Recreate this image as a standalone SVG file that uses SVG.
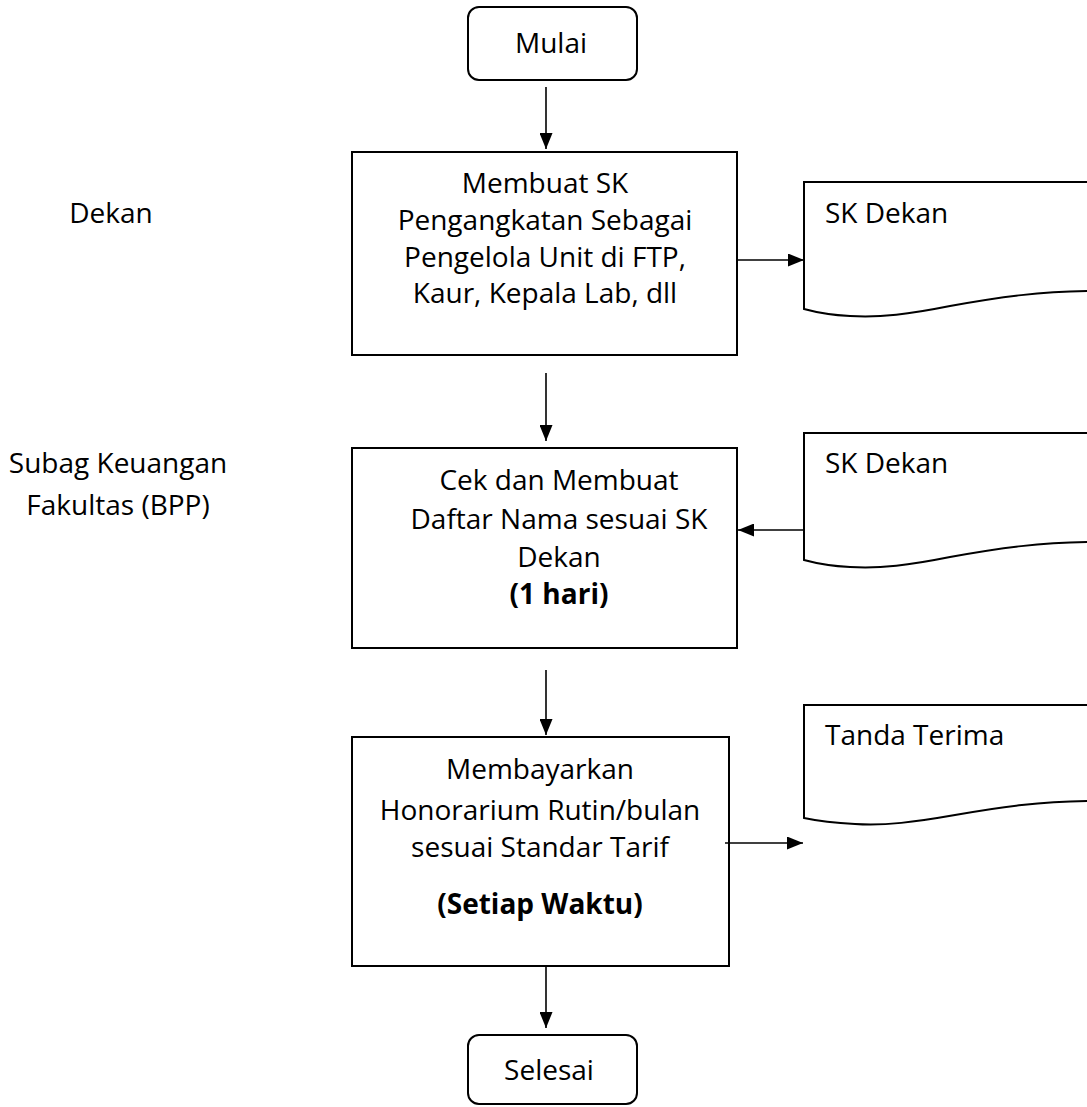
<svg xmlns="http://www.w3.org/2000/svg" width="1087" height="1107" viewBox="0 0 1087 1107">
  <style>
    .shape { fill: #ffffff; stroke: #000000; stroke-width: 2; }
    .txt { font-family: "Open Sans", "Noto Sans", sans-serif; font-size: 28px; fill: #000000; }
    .mid { text-anchor: middle; }
    .bold { font-weight: bold; }
    .conn { stroke: #000000; stroke-width: 1.6; fill: none; marker-end: url(#arrow); }
  </style>
  <defs>
    <marker id="arrow" viewBox="0 0 16 13" refX="16" refY="6.5" markerWidth="16" markerHeight="13" markerUnits="userSpaceOnUse" orient="auto">
      <path d="M0,0 L16,6.5 L0,13 Z" fill="#000000"/>
    </marker>
  </defs>

  <!-- role labels -->
  <g id="lane-dekan">
    <text class="txt mid" x="111" y="223">Dekan</text>
  </g>
  <g id="lane-subag">
    <text class="txt mid" x="118" y="473">Subag Keuangan</text>
    <text class="txt mid" x="118" y="515">Fakultas (BPP)</text>
  </g>

  <!-- start / end terminators -->
  <g id="mulai">
    <rect class="shape" x="468" y="7" width="169" height="73" rx="11"/>
    <text class="txt mid" x="551" y="53">Mulai</text>
  </g>
  <g id="selesai">
    <rect class="shape" x="468" y="1035" width="169" height="69" rx="11"/>
    <text class="txt mid" x="549" y="1080">Selesai</text>
  </g>

  <!-- process steps -->
  <g id="buat-sk">
    <rect class="shape" x="352" y="152" width="385" height="203"/>
    <text class="txt mid" x="545" y="193">Membuat SK</text>
    <text class="txt mid" x="545" y="230">Pengangkatan Sebagai</text>
    <text class="txt mid" x="545" y="267">Pengelola Unit di FTP,</text>
    <text class="txt mid" x="545" y="303">Kaur, Kepala Lab, dll</text>
  </g>
  <g id="cek-daftar">
    <rect class="shape" x="352" y="448" width="385" height="200"/>
    <text class="txt mid" x="559" y="490">Cek dan Membuat</text>
    <text class="txt mid" x="559" y="529">Daftar Nama sesuai SK</text>
    <text class="txt mid" x="559" y="567">Dekan</text>
    <text class="txt mid bold" x="559" y="604">(1 hari)</text>
  </g>
  <g id="bayar-honor">
    <rect class="shape" x="352" y="737" width="377" height="229"/>
    <text class="txt mid" x="540" y="779">Membayarkan</text>
    <text class="txt mid" x="540" y="820">Honorarium Rutin/bulan</text>
    <text class="txt mid" x="540" y="857">sesuai Standar Tarif</text>
    <text class="txt mid bold" x="540" y="914">(Setiap Waktu)</text>
  </g>

  <!-- documents -->
  <g id="doc-sk-1">
    <path class="shape" d="M804,182 H1100 V291 C1040,291 1000,297 950,306 C910,314 880,318 850,316 C830,315 815,312 804,309 Z"/>
    <text class="txt" x="825" y="223">SK Dekan</text>
  </g>
  <g id="doc-sk-2">
    <path class="shape" d="M804,433 H1100 V542 C1040,542 1000,548 950,557 C910,565 880,569 850,567 C830,566 815,563 804,560 Z"/>
    <text class="txt" x="825" y="473">SK Dekan</text>
  </g>
  <g id="doc-tanda-terima">
    <path class="shape" d="M804,705 H1100 V801 C1040,801 1000,807 955,815 C915,822 885,826 855,824 C835,823 818,821 804,818 Z"/>
    <text class="txt" x="825" y="745">Tanda Terima</text>
  </g>

  <!-- connectors -->
  <g id="connectors">
    <line class="conn" x1="546" y1="87" x2="546" y2="149"/>
    <line class="conn" x1="737" y1="260" x2="804" y2="260"/>
    <line class="conn" x1="546" y1="373" x2="546" y2="441"/>
    <line class="conn" x1="804" y1="530" x2="738" y2="530"/>
    <line class="conn" x1="546" y1="670" x2="546" y2="735"/>
    <line class="conn" x1="725" y1="843" x2="803" y2="843"/>
    <line class="conn" x1="546" y1="966" x2="546" y2="1028"/>
  </g>
</svg>
